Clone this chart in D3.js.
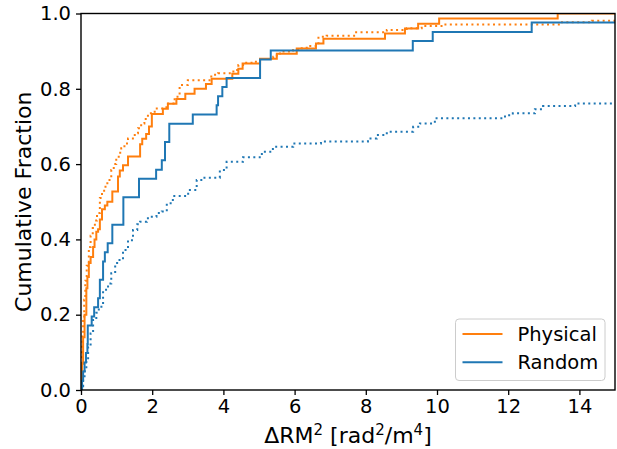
<!DOCTYPE html>
<html>
<head>
<meta charset="utf-8">
<script src="https://cdn.jsdelivr.net/npm/d3@7"></script>
<style>
  body { margin: 0; background: #fff; }
  text { font-family: "DejaVu Sans", sans-serif; }
</style>
</head>
<body>
<div id="chart"></div>
<script>
// step points: at x the cumulative fraction jumps to y
const physicalX = [0, 0.01, 0.03, 0.06, 0.10, 0.15, 0.18, 0.22, 0.27, 0.34, 0.38, 0.43, 0.48, 0.53, 0.59, 0.67, 0.74, 0.88, 1.04, 1.09, 1.18, 1.32, 1.66, 1.72, 1.83, 1.91, 1.99, 2.30, 2.44, 2.68, 2.93, 3.19, 3.51, 3.67, 4.25, 4.42, 4.54, 5.03, 5.50, 6.06, 6.60, 6.81, 8.54, 9.10, 9.47, 10.06, 13.39];
const physicalY = [0, 0.027, 0.07, 0.14, 0.20, 0.27, 0.30, 0.337, 0.353, 0.38, 0.40, 0.42, 0.427, 0.453, 0.48, 0.49, 0.50, 0.527, 0.567, 0.583, 0.597, 0.62, 0.653, 0.667, 0.68, 0.70, 0.733, 0.747, 0.76, 0.773, 0.787, 0.80, 0.813, 0.827, 0.84, 0.853, 0.867, 0.88, 0.893, 0.907, 0.92, 0.933, 0.947, 0.96, 0.973, 0.987, 1.0];

const physicalDotX = [0, 0.005, 0.01, 0.02, 0.03, 0.04, 0.06, 0.09, 0.12, 0.16, 0.22, 0.27, 0.33, 0.39, 0.45, 0.53, 0.59, 0.65, 0.74, 0.85, 0.92, 0.99, 1.06, 1.13, 1.22, 1.32, 1.51, 1.60, 1.69, 1.78, 1.88, 2.07, 2.40, 2.63, 2.77, 3.00, 3.66, 3.85, 4.28, 4.42, 4.61, 4.79, 5.03, 5.40, 5.50, 5.64, 5.96, 6.15, 6.34, 6.67, 6.90, 7.70, 8.59, 9.15, 9.57, 10.17, 13.46, 14.35];
const physicalDotY = [0, 0.03, 0.06, 0.09, 0.12, 0.15, 0.19, 0.24, 0.29, 0.33, 0.38, 0.41, 0.43, 0.45, 0.47, 0.51, 0.525, 0.54, 0.558, 0.584, 0.60, 0.615, 0.63, 0.642, 0.655, 0.668, 0.682, 0.695, 0.708, 0.72, 0.735, 0.748, 0.761, 0.779, 0.81, 0.823, 0.837, 0.841, 0.85, 0.863, 0.869, 0.872, 0.879, 0.885, 0.894, 0.899, 0.903, 0.908, 0.914, 0.938, 0.941, 0.95, 0.956, 0.961, 0.967, 0.971, 0.977, 0.981];

const randomX = [0, 0.03, 0.06, 0.10, 0.14, 0.18, 0.19, 0.30, 0.37, 0.48, 0.53, 0.62, 0.67, 0.75, 0.88, 1.19, 1.63, 2.11, 2.27, 2.36, 2.48, 3.14, 3.81, 3.85, 3.97, 4.09, 5.03, 5.33, 9.32, 9.88, 12.66];
const randomY = [0, 0.024, 0.049, 0.073, 0.098, 0.122, 0.171, 0.195, 0.220, 0.244, 0.293, 0.341, 0.366, 0.390, 0.439, 0.512, 0.561, 0.585, 0.610, 0.659, 0.707, 0.732, 0.756, 0.780, 0.805, 0.829, 0.878, 0.902, 0.927, 0.951, 0.976];

const randomDotX = [0, 0.02, 0.06, 0.10, 0.15, 0.20, 0.27, 0.34, 0.43, 0.50, 0.62, 0.76, 0.85, 0.96, 1.05, 1.18, 1.32, 1.46, 1.58, 1.66, 1.85, 1.94, 2.12, 2.27, 2.41, 2.58, 3.01, 3.25, 3.43, 3.90, 4.09, 4.55, 5.08, 5.39, 5.96, 6.74, 8.06, 8.31, 8.59, 9.33, 9.52, 9.94, 11.91, 12.13, 12.75, 12.98, 13.88];
const randomDotY = [0, 0.01, 0.027, 0.05, 0.08, 0.115, 0.15, 0.186, 0.205, 0.221, 0.266, 0.283, 0.31, 0.337, 0.345, 0.372, 0.398, 0.425, 0.44, 0.447, 0.456, 0.46, 0.47, 0.474, 0.496, 0.515, 0.531, 0.558, 0.564, 0.584, 0.606, 0.618, 0.633, 0.646, 0.655, 0.66, 0.668, 0.677, 0.686, 0.699, 0.708, 0.722, 0.73, 0.735, 0.746, 0.754, 0.761];

const xTicks = [0, 2, 4, 6, 8, 10, 12, 14];
const yTicks = [0, 0.2, 0.4, 0.6, 0.8, 1.0];
const legendNames = ["Physical", "Random"];

const orange = "#ff7f0e", blue = "#1f77b4";

// set the dimensions and margins of the graph
const margin = {top: 13.5, right: 2, bottom: 59, left: 81},
  width = 617 - margin.left - margin.right,
  height = 449 - margin.top - margin.bottom;

const svg = d3.select("#chart")
  .append("svg")
  .attr("width", 617)
  .attr("height", 449)
  .append("g")
  .attr("transform", `translate(${margin.left}, ${margin.top})`);

const x = d3.scaleLinear().domain([0, 15]).range([0, width]);
const y = d3.scaleLinear().domain([0, 1]).range([height, 0]);

svg.append("clipPath").attr("id", "clip")
  .append("rect").attr("width", width).attr("height", height);

const line = d3.line()
  .x(d => x(d[0]))
  .y(d => y(d[1]))
  .curve(d3.curveStepAfter);

function steps(xs, ys) {
  const pts = xs.map((v, i) => [v, ys[i]]);
  pts.push([15, ys[ys.length - 1]]);
  return pts;
}

const series = [
  {pts: steps(physicalX, physicalY), color: orange, dash: null},
  {pts: steps(physicalDotX, physicalDotY), color: orange, dash: "2,3.4"},
  {pts: steps(randomX, randomY), color: blue, dash: null},
  {pts: steps(randomDotX, randomDotY), color: blue, dash: "2,3.4"}
];

const plot = svg.append("g").attr("clip-path", "url(#clip)");
series.forEach(s => {
  plot.append("path")
    .datum(s.pts)
    .attr("d", line)
    .attr("fill", "none")
    .attr("stroke", s.color)
    .attr("stroke-width", 2)
    .attr("stroke-dasharray", s.dash);
});

// axes
const xAxis = svg.append("g")
  .attr("transform", `translate(0, ${height})`)
  .call(d3.axisBottom(x).tickValues(xTicks).tickSize(5).tickPadding(4).tickFormat(d3.format("d")));
const yAxis = svg.append("g")
  .call(d3.axisLeft(y).tickValues(yTicks).tickSize(5).tickPadding(5).tickFormat(d3.format(".1f")));

[xAxis, yAxis].forEach(a => {
  a.select(".domain").remove();
  a.selectAll("line").attr("stroke", "#000").attr("stroke-width", 1.3);
  a.selectAll("text").attr("fill", "#000").style("font-size", "19.5px")
    .style("font-family", "DejaVu Sans, sans-serif");
});

// frame
svg.append("rect")
  .attr("width", width).attr("height", height)
  .attr("fill", "none").attr("stroke", "#000").attr("stroke-width", 1.4);

// axis labels
const xl = svg.append("text")
  .attr("x", width / 2)
  .attr("y", height + 53)
  .attr("text-anchor", "middle")
  .style("font-size", "22px");
xl.append("tspan").text("ΔRM");
xl.append("tspan").attr("dy", -8).style("font-size", "15px").text("2");
xl.append("tspan").attr("dy", 8).text(" [rad");
xl.append("tspan").attr("dy", -8).style("font-size", "15px").text("2");
xl.append("tspan").attr("dy", 8).text("/m");
xl.append("tspan").attr("dy", -8).style("font-size", "15px").text("4");
xl.append("tspan").attr("dy", 8).text("]");

svg.append("text")
  .attr("transform", `translate(${-50}, ${height / 2}) rotate(-90)`)
  .attr("text-anchor", "middle")
  .style("font-size", "22px")
  .text("Cumulative Fraction");

// legend
const lg = svg.append("g").attr("transform", `translate(${455.5 - margin.left}, ${319 - margin.top})`);
lg.append("rect")
  .attr("width", 149.5).attr("height", 61.5)
  .attr("rx", 3.5)
  .attr("fill", "#fff").attr("fill-opacity", 0.8)
  .attr("stroke", "#cccccc").attr("stroke-width", 1);
legendNames.forEach((name, i) => {
  const gy = 15 + i * 28.3;
  lg.append("line")
    .attr("x1", 7).attr("x2", 47).attr("y1", gy).attr("y2", gy)
    .attr("stroke", i === 0 ? orange : blue).attr("stroke-width", 2);
  lg.append("text")
    .attr("x", 62).attr("y", gy)
    .attr("dy", "0.36em")
    .style("font-size", "19.5px")
    .text(name);
});
</script>
</body>
</html>
